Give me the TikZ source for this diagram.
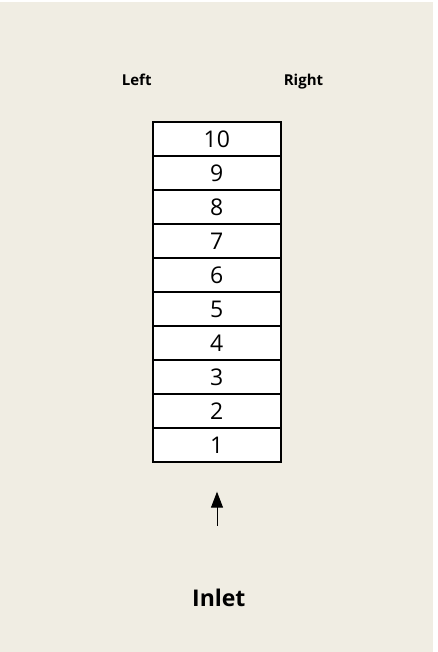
\documentclass[tikz,border=0pt]{standalone}
\usepackage{fontspec}
\setmainfont{Open Sans}
\usetikzlibrary{arrows.meta}
\definecolor{bgbeige}{HTML}{F0EDE3}
\tikzset{
  cellbox/.style={draw=black, line width=2pt, fill=white, minimum width=128pt, minimum height=34pt, inner sep=0pt, font=\fontsize{23}{23}\selectfont},
  sidelabel/.style={font=\fontsize{15}{15}\selectfont\bfseries, anchor=base},
  inletlabel/.style={font=\fontsize{23}{23}\selectfont\bfseries, anchor=base},
  flowarrow/.style={line width=1pt, -{Triangle[length=16pt,width=12pt]}}
}
\begin{document}
\begin{tikzpicture}[x=1pt,y=-1pt]
\useasboundingbox (0,0) rectangle (437,652);
\fill[white] (0,0) rectangle (437,652);
\fill[bgbeige] (0,2) rectangle (433,652);
\node[sidelabel] (left) at (136.7,86) {Left};
\node[sidelabel] (right) at (303.5,86) {Right};
\foreach \i in {1,...,10}{
  \node[cellbox] (c\i) at (216.8,{445.3-34*(\i-1)}) {\i};
}
\coordinate (tail) at (217,525.7);
\coordinate (tip) at (217,491.7);
\draw[flowarrow] (tail) -- (tip);
\node[inletlabel] (inlet) at (218.8,606.5) {Inlet};
\end{tikzpicture}
\end{document}
